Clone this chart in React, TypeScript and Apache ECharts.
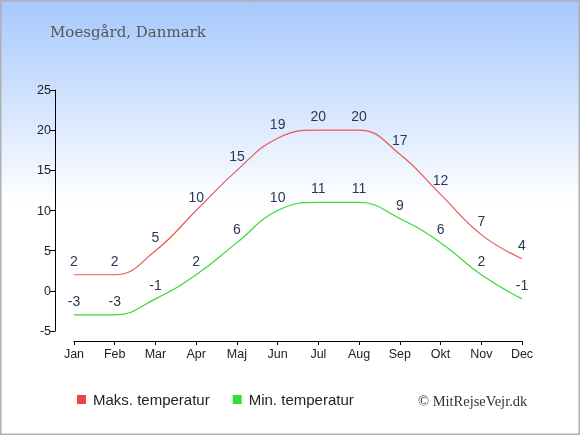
import React, { useEffect, useRef } from "react";
import * as echarts from "echarts";

const months = ["Jan", "Feb", "Mar", "Apr", "Maj", "Jun", "Jul", "Aug", "Sep", "Okt", "Nov", "Dec"];
const maxTemp = [2, 2, 5, 10, 15, 19, 20, 20, 17, 12, 7, 4];
const minTemp = [-3, -3, -1, 2, 6, 10, 11, 11, 9, 6, 2, -1];
const yMin = -5;
const yMax = 25;
const yStep = 5;
const titleText = "Moesgård, Danmark";
const creditText = "© MitRejseVejr.dk";
const maxName = "Maks. temperatur";
const minName = "Min. temperatur";

export default function App() {
  const ref = useRef<HTMLDivElement>(null);
  useEffect(() => {
    if (!ref.current) return;
    const chart = echarts.init(ref.current, null, { renderer: "svg" });
    const labelStyle = {
      show: true,
      position: "top" as const,
      distance: 6,
      color: "#2a3854",
      opacity: 1,
      fontSize: 14,
      fontFamily: "Liberation Sans, Arial, sans-serif",
    };
    chart.setOption({
      animation: false,
      backgroundColor: "transparent",
      graphic: [
        {
          type: "rect",
          z: -10,
          silent: true,
          shape: { x: 0.5, y: 0.5, width: 579, height: 434 },
          style: {
            fill: new echarts.graphic.LinearGradient(0, 0, 0, 1, [
              { offset: 0, color: "#a6c8fc" },
              { offset: 0.47, color: "#ffffff" },
              { offset: 1, color: "#ffffff" },
            ]),
            stroke: "#b0b0b0",
            lineWidth: 2,
          },
        },
        {
          type: "text",
          left: 50,
          top: 24,
          style: {
            text: titleText,
            fill: "#555555",
            fontSize: 15,
            fontFamily: "DejaVu Serif, serif",
          },
        },
        {
          type: "text",
          left: 418,
          top: 393,
          style: {
            text: creditText,
            fill: "#333333",
            fontSize: 14.5,
            fontFamily: "Liberation Serif, serif",
          },
        },
      ],
      legend: {
        left: 77,
        top: 392,
        padding: 0,
        icon: "rect",
        itemWidth: 9,
        itemHeight: 9,
        itemGap: 23,
        textStyle: {
          color: "#222222",
          fontSize: 15,
          fontFamily: "Liberation Sans, Arial, sans-serif",
          padding: [0, 0, 0, 2],
        },
        data: [
          { name: maxName, itemStyle: { color: "#ee4444", opacity: 1 } },
          { name: minName, itemStyle: { color: "#33dd33", opacity: 1 } },
        ],
      },
      grid: { left: 74, right: 58, top: 90, bottom: 104, containLabel: false },
      xAxis: {
        type: "category",
        data: months,
        boundaryGap: false,
        offset: 10,
        axisLine: { show: true, onZero: false, lineStyle: { color: "#000000", width: 1 } },
        axisTick: { show: true, length: 4, lineStyle: { color: "#000000" } },
        axisLabel: {
          color: "#222222",
          fontSize: 12.5,
          margin: 6,
          fontFamily: "Liberation Sans, Arial, sans-serif",
        },
        splitLine: { show: false },
      },
      yAxis: {
        type: "value",
        min: yMin,
        max: yMax,
        interval: yStep,
        offset: 19,
        axisLine: { show: true, lineStyle: { color: "#000000", width: 1 } },
        axisTick: { show: true, length: 5, lineStyle: { color: "#000000" } },
        axisLabel: {
          color: "#222222",
          fontSize: 12.5,
          margin: 4,
          fontFamily: "Liberation Sans, Arial, sans-serif",
        },
        splitLine: { show: false },
      },
      series: [
        {
          name: maxName,
          type: "line",
          data: maxTemp,
          smooth: 0.45,
          symbol: "circle",
          symbolSize: 2,
          showSymbol: true,
          lineStyle: { color: "#ee5555", width: 1.2 },
          itemStyle: { color: "rgba(238,68,68,0)", borderWidth: 0 },
          label: labelStyle,
        },
        {
          name: minName,
          type: "line",
          data: minTemp,
          smooth: 0.45,
          symbol: "circle",
          symbolSize: 2,
          showSymbol: true,
          lineStyle: { color: "#33dd33", width: 1.2 },
          itemStyle: { color: "rgba(51,221,51,0)", borderWidth: 0 },
          label: labelStyle,
        },
      ],
    });
    return () => chart.dispose();
  }, []);
  return (
    <div
      ref={ref}
      style={{ position: "fixed", left: 0, top: 0, width: 580, height: 435 }}
    />
  );
}
